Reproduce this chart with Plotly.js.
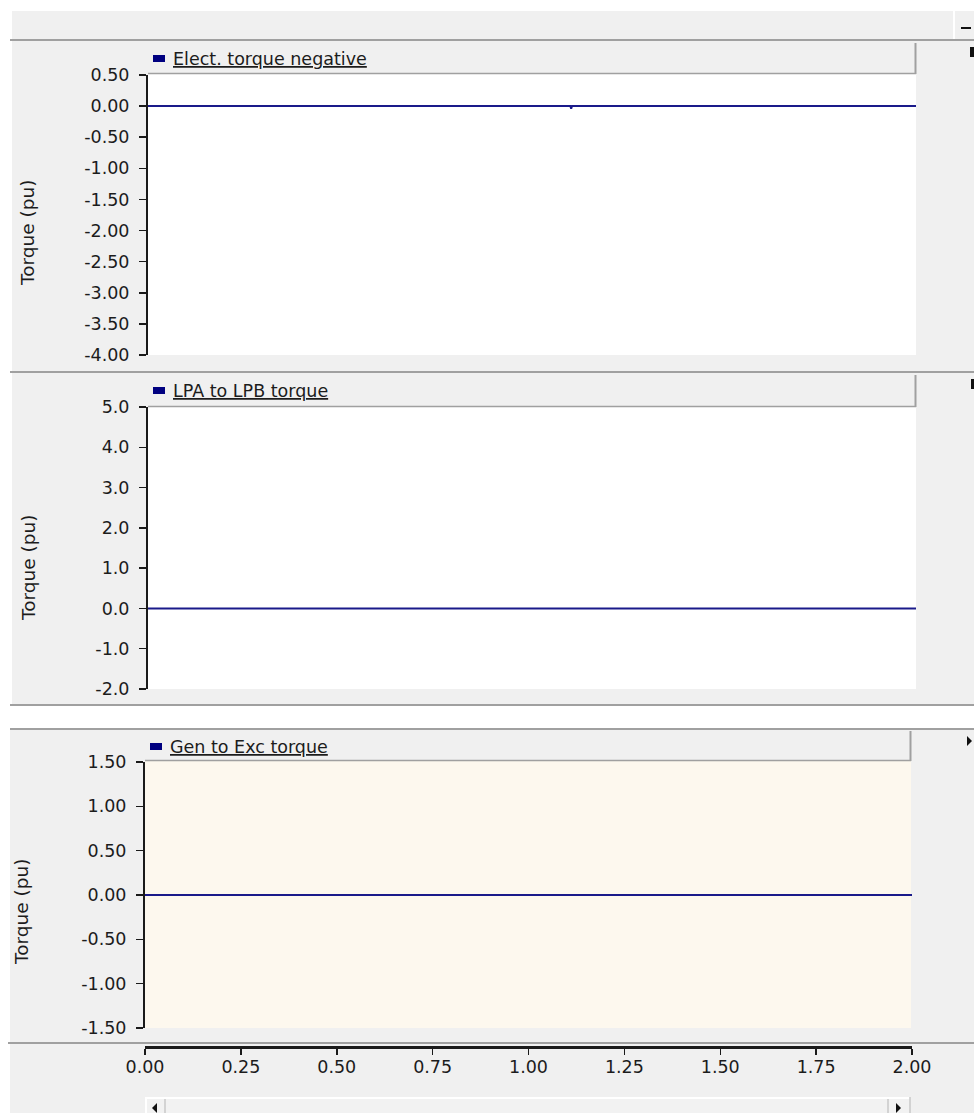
<!DOCTYPE html>
<html><head><meta charset="utf-8">
<script src="https://cdn.plot.ly/plotly-3.0.1.min.js"></script>
<style>html,body{margin:0;padding:0;background:#fff;overflow:hidden}#chart{width:974px;height:1113px;}</style>
</head><body><div id="chart"></div>
<script>
// ---- data ----
const time = [0, 1.100, 1.102, 1.104, 2.0];
const electTorqueNeg = [0, 0, -0.04, 0, 0];
const lpaToLpbTorque = [0, 0, 0, 0, 0];
const genToExcTorque = [0, 0, 0, 0, 0];
const seriesNames = ['Elect. torque negative', 'LPA to LPB torque', 'Gen to Exc torque'];
const yAxisTitle = 'Torque (pu)';
const yTicks1 = [0.5, 0, -0.5, -1, -1.5, -2, -2.5, -3, -3.5, -4];
const yTickLabels1 = ['0.50', '0.00', '-0.50', '-1.00', '-1.50', '-2.00', '-2.50', '-3.00', '-3.50', '-4.00'];
const yTicks2 = [5, 4, 3, 2, 1, 0, -1, -2];
const yTickLabels2 = ['5.0', '4.0', '3.0', '2.0', '1.0', '0.0', '-1.0', '-2.0'];
const yTicks3 = [1.5, 1, 0.5, 0, -0.5, -1, -1.5];
const yTickLabels3 = ['1.50', '1.00', '0.50', '0.00', '-0.50', '-1.00', '-1.50'];
const xTicks = [0, 0.25, 0.5, 0.75, 1, 1.25, 1.5, 1.75, 2];
const xTickLabels = ['0.00', '0.25', '0.50', '0.75', '1.00', '1.25', '1.50', '1.75', '2.00'];

// ---- layout helpers ----
const W = 974, H = 1113;
const X = p => p / W;
const Y = p => 1 - p / H;
const FONT = 'DejaVu Sans';
const FS = 17.5;
const TXT = '#1c1c1c';
const GRAY = '#f0f0f0';
const EDGE = '#a0a0a0';
const LINE = '#1a1a8a';

function rect(x0, y0, x1, y1, fill) {
  return {type: 'rect', xref: 'paper', yref: 'paper', x0: X(x0), x1: X(x1), y0: Y(y1), y1: Y(y0),
          fillcolor: fill, line: {width: 0}, layer: 'below'};
}
function hline(x0, x1, y, color, w) {
  return {type: 'line', xref: 'paper', yref: 'paper', x0: X(x0), x1: X(x1), y0: Y(y), y1: Y(y),
          line: {color: color, width: w}, layer: 'below'};
}
function vline(x, y0, y1, color, w) {
  return {type: 'line', xref: 'paper', yref: 'paper', x0: X(x), x1: X(x), y0: Y(y0), y1: Y(y1),
          line: {color: color, width: w}, layer: 'below'};
}
function tri(pts, fill) {
  const d = 'M' + pts.map(p => X(p[0]) + ',' + Y(p[1])).join(' L') + ' Z';
  return {type: 'path', xref: 'paper', yref: 'paper', path: d, fillcolor: fill, line: {width: 0}, layer: 'above'};
}

const shapes = [
  // top band
  rect(12, 11, 953, 40, GRAY),
  rect(955, 11, 974, 40, GRAY),
  hline(961, 971, 28, '#111', 2),
  hline(10, 974, 40, EDGE, 2),
  // panel 1
  rect(12, 41, 974, 371, GRAY),
  hline(10, 974, 372, EDGE, 2),
  // panel 2
  rect(12, 373, 974, 704, GRAY),
  hline(10, 974, 705, EDGE, 2),
  hline(10, 974, 729, EDGE, 2),
  // panel 3 and bottom
  rect(10, 730, 974, 1113, GRAY),
  hline(8, 974, 1043, EDGE, 2),
  // plot areas
  rect(148, 74, 916, 355, '#ffffff'),
  rect(148, 407, 916, 689, '#ffffff'),
  rect(145, 761, 911, 1028, '#fdf8ee'),
  // legend bars
  rect(148, 43, 916, 74, GRAY), vline(915.5, 43, 74, EDGE, 2), hline(148, 916, 73.5, EDGE, 1.5),
  rect(148, 375, 916, 407, GRAY), vline(915.5, 375, 407, EDGE, 2), hline(148, 916, 406.5, EDGE, 1.5),
  rect(145, 731, 911, 761, GRAY), vline(910.5, 731, 761, EDGE, 2), hline(145, 911, 760.5, EDGE, 1.5),
  // legend swatches
  rect(153, 55, 165, 62, '#000080'),
  rect(153, 387, 165, 394, '#000080'),
  rect(150, 743, 162, 750, '#000080'),
  // right edge marks
  rect(970, 47, 974, 57, '#111'),
  rect(971, 379, 974, 389, '#111'),
  tri([[967, 736], [972, 741], [967, 746]], '#111'),
  // scrollbar
  rect(145, 1097, 910, 1113, '#f2f2f2'),
  hline(145, 910, 1098, '#ffffff', 2),
  vline(146, 1097, 1113, '#ffffff', 2),
  vline(165, 1099, 1113, '#c8c8c8', 1.5),
  vline(888, 1099, 1113, '#c8c8c8', 1.5),
  vline(910, 1097, 1113, '#c8c8c8', 1.5),
  tri([[157, 1103], [152, 1108], [157, 1113]], '#111'),
  tri([[896, 1103], [901, 1108], [896, 1113]], '#111')
];

const legendY = [59, 391, 747];
const legendX = [171, 171, 168];
const annotations = seriesNames.map((n, i) => ({
  xref: 'paper', yref: 'paper', x: X(legendX[i]), y: Y(legendY[i]), xanchor: 'left', yanchor: 'middle',
  text: '<u>' + n + '</u>', showarrow: false, font: {family: FONT, size: FS, color: TXT}
}));
// y-axis titles (placed as in the reference, below the domain centre)
const titleX = [28, 28, 21];
const titleY = [233, 568, 912];
titleX.forEach((tx, i) => annotations.push({
  xref: 'paper', yref: 'paper', x: X(tx), y: Y(titleY[i]), xanchor: 'center', yanchor: 'middle',
  text: yAxisTitle, textangle: -90, showarrow: false, font: {family: FONT, size: 18.5, color: TXT}
}));

const traces = [
  {x: time, y: electTorqueNeg, xaxis: 'x', yaxis: 'y', name: seriesNames[0]},
  {x: time, y: lpaToLpbTorque, xaxis: 'x2', yaxis: 'y2', name: seriesNames[1]},
  {x: time, y: genToExcTorque, xaxis: 'x3', yaxis: 'y3', name: seriesNames[2]}
].map(t => Object.assign(t, {type: 'scatter', mode: 'lines', line: {color: LINE, width: 2}, hoverinfo: 'skip'}));

function yax(domain, range, tv, tt, anchor) {
  return {
    domain: domain, range: range, anchor: anchor, tickmode: 'array', tickvals: tv, ticktext: tt,
    showgrid: false, zeroline: false, showline: true, linecolor: '#1a1a1a', linewidth: 2,
    ticks: 'outside', ticklen: 7, tickwidth: 1.5, tickcolor: '#1a1a1a', ticklabelstandoff: 6,
    tickfont: {family: FONT, size: FS, color: TXT}, automargin: false
  };
}
function xhidden(domain, anchor) {
  return {domain: domain, range: [0, 2], anchor: anchor, visible: false, showgrid: false, zeroline: false};
}

const layout = {
  width: W, height: H, margin: {l: 0, r: 0, t: 0, b: 0},
  paper_bgcolor: '#ffffff', plot_bgcolor: 'rgba(0,0,0,0)', showlegend: false,
  font: {family: FONT, size: FS, color: TXT},
  xaxis: xhidden([X(148), X(916)], 'y'),
  xaxis2: xhidden([X(148), X(916)], 'y2'),
  xaxis3: {
    domain: [X(145), X(912)], range: [0, 2], anchor: 'free', position: Y(1047), side: 'bottom',
    tickmode: 'array', tickvals: xTicks, ticktext: xTickLabels,
    showgrid: false, zeroline: false, showline: true, linecolor: '#1a1a1a', linewidth: 2.5,
    ticks: 'outside', ticklen: 6, tickwidth: 1.5, tickcolor: '#1a1a1a', ticklabelstandoff: -3,
    tickfont: {family: FONT, size: FS, color: TXT}, automargin: false
  },
  yaxis: yax([Y(355), Y(75)], [-4, 0.5], yTicks1, yTickLabels1, 'x'),
  yaxis2: yax([Y(689), Y(407)], [-2, 5], yTicks2, yTickLabels2, 'x2'),
  yaxis3: yax([Y(1028), Y(762)], [-1.5, 1.5], yTicks3, yTickLabels3, 'x3'),
  shapes: shapes,
  annotations: annotations
};

Plotly.newPlot('chart', traces, layout, {displayModeBar: false, staticPlot: true});
</script>
</body></html>
